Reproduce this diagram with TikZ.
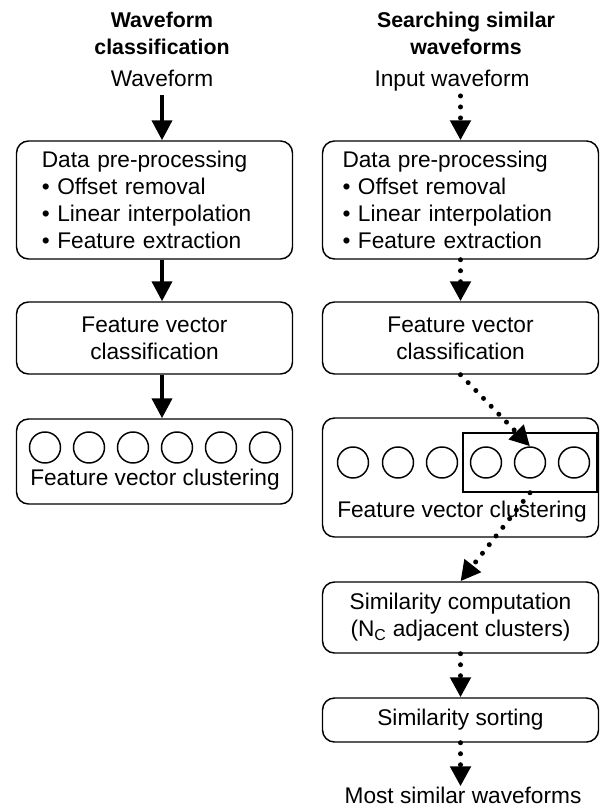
\documentclass[tikz,border=0pt]{standalone}
\usepackage{fontspec}
\setmainfont{Liberation Sans}
\usetikzlibrary{arrows.meta}
\tikzset{
  box/.style={draw, rounded corners=9pt, line width=1.1pt, minimum width=207pt,
    inner sep=0pt, align=center, font=\fontsize{17}{20.25}\selectfont},
  listbox/.style={box, align=left, text width=#1, inner xsep={(207pt-#1)/2}},
  txt/.style={font=\fontsize{17}{20.25}\selectfont, align=center, inner sep=0pt},
  ttl/.style={font=\fontsize{16}{20.25}\selectfont\bfseries, align=center, inner sep=0pt},
  clus/.style={draw, circle, line width=1.1pt, minimum size=23.25pt, inner sep=0pt},
  solidarr/.style={line width=3pt, -{Triangle[width=15pt,length=15pt]}},
  dotarr/.style={line width=3.75pt, line cap=round, dash pattern=on 0pt off 8.25pt,
    -{Triangle[width=15pt,length=15pt]}},
}
\begin{document}
\begin{tikzpicture}[x=0.75pt, y=-0.75pt]
  \useasboundingbox (0,0) rectangle (600,812);
  % left column
  \node[ttl] (t1) at (162,33.5) {Waveform\\classification};
  \node[txt, anchor=base] (in1) at (162,87) {Waveform};
  \node[listbox=169pt, minimum height=88.5pt] (pre1) at (154.5,200)
    {Data pre-processing\\• Offset removal\\• Linear interpolation\\• Feature extraction};
  \node[box, minimum height=54pt] (cls1) at (154.5,338) {Feature vector\\classification};
  \node[box, minimum height=63.75pt] (clu1) at (154.5,461.5) {};
  \foreach \i/\x in {1/45,2/89,3/133,4/177,5/221,6/265}
    \node[clus] (c\i) at (\x,447.5) {};
  \node[txt, anchor=base] (cl1) at (155,485) {Feature vector clustering};
  % right column
  \node[ttl] (t2) at (466,33.5) {Searching similar\\waveforms};
  \node[txt, anchor=base] (in2) at (452,87) {Input waveform};
  \node[listbox=177pt, minimum height=88.5pt] (pre2) at (460.5,200)
    {Data pre-processing\\• Offset removal\\• Linear interpolation\\• Feature extraction};
  \node[box, minimum height=54pt] (cls2) at (460.5,338) {Feature vector\\classification};
  \node[box, minimum height=89.25pt] (clu2) at (460.5,477.5) {};
  \foreach \i/\x in {1/353,2/398,3/442,4/486,5/530,6/574}
    \node[clus] (d\i) at (\x,462.5) {};
  \node[draw, line width=1.1pt, minimum width=100.5pt, minimum height=44.25pt] (sel) at (530,462.5) {};
  \node[txt, anchor=base] (cl2) at (462,517) {Feature vector clustering};
  \node[box, minimum height=53.25pt] (sim) at (460.5,617.5)
    {Similarity computation\\(N\textsubscript{C} adjacent clusters)};
  \node[box, minimum height=33pt] (srt) at (460.5,720) {Similarity sorting};
  \node[txt, anchor=base] (out) at (463,803) {Most similar waveforms};
  % connectors
  \begin{scope}[solidarr]
    \draw[shorten <=6pt] (in1.south) -- (in1.south |- pre1.north);
    \draw (pre1.south -| in1) -- (cls1.north -| in1);
    \draw (cls1.south -| in1) -- (clu1.north -| in1);
  \end{scope}
  \begin{scope}[dotarr]
    \draw[shorten <=3pt] (pre2.north |- in2.south) -- (pre2.north);
    \draw (pre2.south) -- (cls2.north);
    \draw (cls2.south) -- (d5.north);
    \draw (sel.south) -- (sim.north);
    \draw (sim.south) -- (srt.north);
    \draw (srt.south) -- (srt.south |- out.north);
  \end{scope}
\end{tikzpicture}
\end{document}
